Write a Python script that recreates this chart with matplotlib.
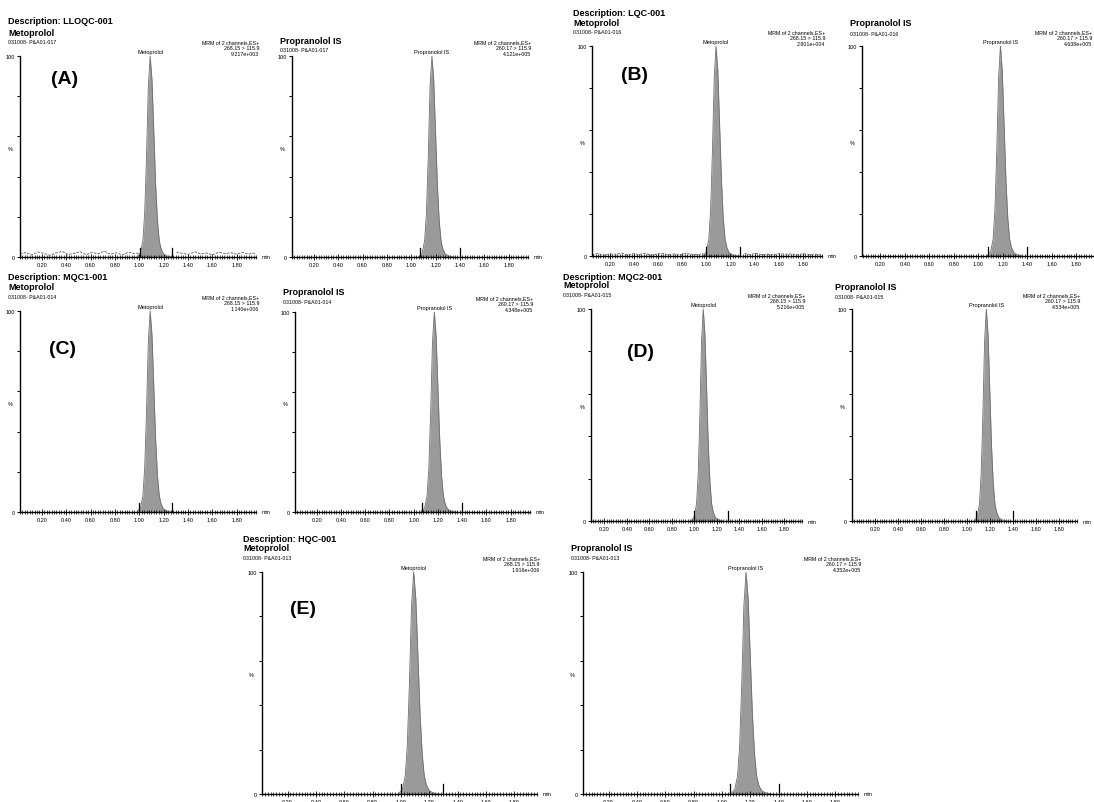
import matplotlib
matplotlib.use('Agg')
from matplotlib import pyplot as plt
from matplotlib.ticker import MultipleLocator
import numpy as np

plt.rcParams['font.family'] = ['Liberation Sans', 'DejaVu Sans']

# ---- data ----
descriptions = ['LLOQC-001', 'LQC-001', 'MQC1-001', 'MQC2-001', 'HQC-001']
letters = ['(A)', '(B)', '(C)', '(D)', '(E)']
sample_ids = ['031008- P&A01-017', '031008- P&A01-016', '031008- P&A01-014',
              '031008- P&A01-015', '031008- P&A01-013']
meto_intensity = ['9.217e+003', '2.801e+004', '1.140e+006', '5.216e+005', '1.916e+006']
prop_intensity = ['4.121e+005', '4.638e+005', '4.348e+005', '4.534e+005', '4.352e+005']
meto_transition = '268.15 > 115.9'
prop_transition = '260.17 > 115.9'
meto_apex = [1.09, 1.08, 1.09, 1.08, 1.09]
prop_apex = [1.17, 1.18, 1.17, 1.17, 1.17]
meto_marks = [(1.01, 1.27), (1.00, 1.28), (1.00, 1.27), (1.00, 1.30), (1.00, 1.30)]
prop_marks = [(1.07, 1.40), (1.08, 1.40), (1.07, 1.40), (1.08, 1.40), (1.06, 1.40)]

# peak profile (offset from apex in min, % height)
peak_dt = [-0.11, -0.08, -0.06, -0.045, -0.03, -0.015, 0.0, 0.015, 0.03, 0.045,
           0.06, 0.075, 0.09, 0.11, 0.14, 0.18]
peak_h = [0, 2, 8, 22, 50, 85, 100, 88, 62, 36, 18, 8, 4, 1.5, 0.5, 0]

# baseline noise (LLOQ and LQC metoprolol traces)
noise_a = [1.5, 2.2, 1.0, 2.5, 1.8, 0.8, 2.0, 2.8, 1.2, 1.9, 2.6, 1.1, 2.3, 1.6,
           2.9, 1.4, 2.1, 1.0, 2.4, 1.7, 2.0, 1.2, 2.7, 1.5, 2.2, 0.9, 2.5, 1.8,
           1.3, 2.6, 1.6, 2.0, 1.1, 2.4, 1.7, 2.1, 1.4, 2.3, 1.5, 1.9]
noise_b = [0.6, 1.2, 0.4, 1.0, 0.8, 1.4, 0.5, 1.1, 0.7, 1.3, 0.4, 0.9, 1.2, 0.6,
           1.0, 0.5, 1.3, 0.8, 0.6, 1.1, 0.7, 1.2, 0.5, 0.9, 1.0, 0.4, 1.1, 0.7,
           1.3, 0.6, 0.9, 0.5, 1.2, 0.8, 1.0, 0.6, 1.1, 0.7, 0.9, 0.5]

W, H = 1094, 803
fig = plt.figure(figsize=(W / 100, H / 100), dpi=100)

# panel layout in pixels: left, right, y(100), y(0), x-start
layout_meto = [(20, 256, 57, 258, 0.02), (592, 822, 47, 257, 0.05), (20, 256, 312, 513, 0.02),
               (591, 802, 310, 522, 0.08), (262, 537, 573, 795, 0.02)]
layout_prop = [(292, 528, 57, 258, 0.02), (862, 1096, 47, 257, 0.05), (295, 530, 313, 513, 0.02),
               (852, 1077, 310, 522, 0.0), (583, 858, 573, 795, 0.02)]
prop_title_off = [16, 23, 20, 22, 24]
prop_title_x = [280, 850, 283, 835, 571]
letter_pos = [(65, 80), (635, 75), (63, 350), (640, 353), (303, 610)]
desc_pos = [(8, 22), (573, 14), (8, 277), (563, 278), (243, 540)]


def fx(x):
    return x / W


def fy(y):
    return 1 - y / H


def draw_panel(geom, apex, marks, name, sid, transition, inten,
               title_x, title_off, id_off, noise=None, show_min=True, mrm_right=None):
    l, r, t, b, x0 = geom
    ax = fig.add_axes([fx(l), fy(b), (r - l) / W, (b - t) / H])
    ax.set_xlim(x0, 1.96)
    ax.set_ylim(0, 100)
    for s in ['top', 'right']:
        ax.spines[s].set_visible(False)
    for s in ['left', 'bottom']:
        ax.spines[s].set_linewidth(1.0)
    ax.set_facecolor('none')

    t_peak = [apex + d for d in peak_dt]
    ax.fill_between(t_peak, 0, peak_h, color='#9a9a9a', lw=0)
    ax.plot(t_peak, peak_h, color='#6e6e6e', lw=0.6)
    if noise is not None:
        tn = np.linspace(x0, 1.95, len(noise))
        keep = (tn < marks[0]) | (tn > marks[1])
        ax.plot(np.where(keep, tn, np.nan), noise, color='#555555', lw=0.6, ls=(0, (3, 1.5)))
    for m in marks:
        ax.plot([m, m], [0, 4.5], color='black', lw=0.9)

    ax.set_xticks(np.arange(0.2, 1.81, 0.2))
    ax.set_xticklabels(['%.2f' % v for v in np.arange(0.2, 1.81, 0.2)])
    ax.xaxis.set_minor_locator(MultipleLocator(0.02))
    ax.tick_params(axis='x', which='major', direction='inout', length=4, width=0.6,
                   labelsize=4, pad=1.5)
    ax.tick_params(axis='x', which='minor', direction='inout', length=2.5, width=0.5)
    ax.set_yticks([0, 20, 40, 60, 80, 100])
    ax.set_yticklabels(['0', '', '', '', '', '100'])
    ax.tick_params(axis='y', direction='out', length=2.5, width=0.7, labelsize=4, pad=1)
    ax.text(-0.03, 0.54, '%', transform=ax.transAxes, fontsize=4, ha='right', va='center')
    if show_min:
        ax.annotate('min', xy=(1, 0), xycoords='axes fraction', xytext=(4, 0),
                    textcoords='offset points', fontsize=4, va='center', ha='left')
    ax.text(apex, 101, name if name == 'Metoprolol' else 'Propranolol IS', fontsize=4,
            ha='center', va='bottom', clip_on=False)

    fig.text(fx(title_x), fy(t - title_off), name, fontsize=6.5, fontweight='bold', va='center')
    fig.text(fx(title_x), fy(t - id_off), sid, fontsize=3.8, va='center')
    xr = mrm_right if mrm_right is not None else r + 3
    fig.text(fx(xr), fy(t - 8), 'MRM of 2 channels,ES+\n' + transition + '\n' + inten,
             fontsize=3.8, ha='right', va='center', linespacing=1.25)
    return ax


for i in range(5):
    noise = noise_a if i == 0 else (noise_b if i == 1 else None)
    draw_panel(layout_meto[i], meto_apex[i], meto_marks[i], 'Metoprolol',
               sample_ids[i], meto_transition, meto_intensity[i],
               desc_pos[i][0], 24, 14, noise)
    draw_panel(layout_prop[i], prop_apex[i], prop_marks[i], 'Propranolol IS',
               sample_ids[i], prop_transition, prop_intensity[i],
               prop_title_x[i], prop_title_off[i], prop_title_off[i] - 10,
               show_min=(i != 1), mrm_right=(1092 if i == 1 else None))
    fig.text(fx(desc_pos[i][0]), fy(desc_pos[i][1]), 'Description: ' + descriptions[i],
             fontsize=6.5, fontweight='bold', va='center')
    fig.text(fx(letter_pos[i][0]), fy(letter_pos[i][1]), letters[i], fontsize=14,
             fontweight='bold', ha='center', va='center')

fig.savefig('out.png', dpi=100)
